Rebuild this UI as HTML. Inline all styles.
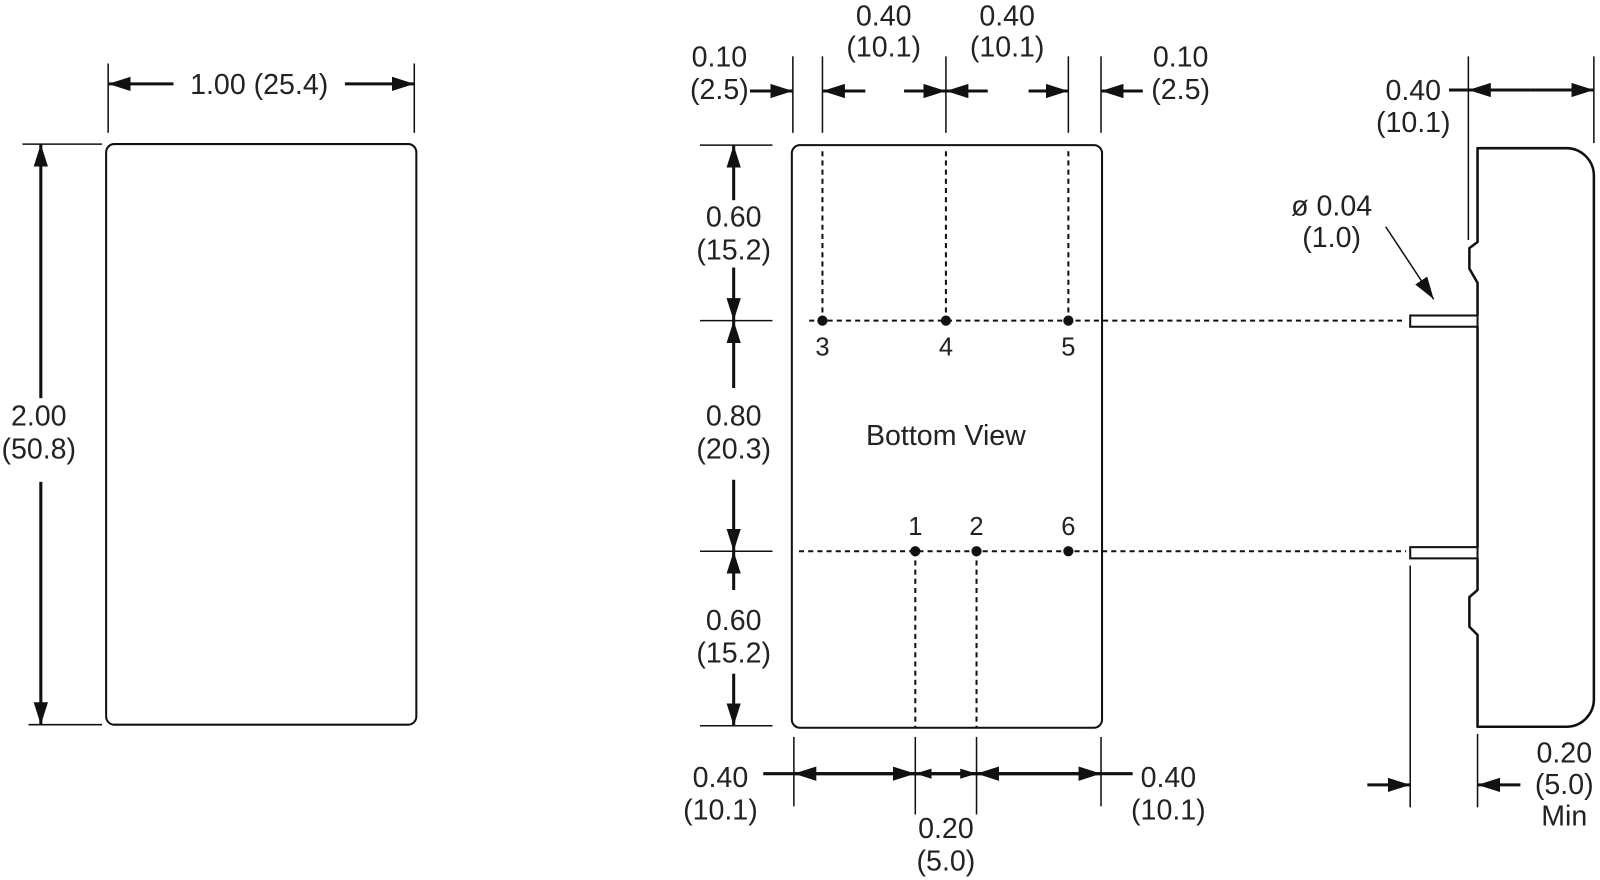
<!DOCTYPE html>
<html><head><meta charset="utf-8"><style>
html,body{margin:0;padding:0;background:#fff;width:1600px;height:880px;overflow:hidden}
svg text{font-family:"Liberation Sans",sans-serif;font-size:28px;fill:#222;text-anchor:middle}
</style></head><body>
<svg width="1600" height="880" viewBox="0 0 1568 862" xmlns="http://www.w3.org/2000/svg">
<defs>
<marker id="a" markerUnits="userSpaceOnUse" markerWidth="24" markerHeight="16" refX="22" refY="7" orient="auto"><path d="M0,0 L22,7 L0,14 z" fill="#111"/></marker>
<marker id="s" markerUnits="userSpaceOnUse" markerWidth="18" markerHeight="12" refX="16" refY="5" orient="auto"><path d="M0,0 L16,5 L0,10 z" fill="#111"/></marker>
</defs>
<g stroke="#111" fill="none">
<rect x="104" y="141" width="304" height="569" rx="8" stroke-width="2"/>
<g stroke-width="1.5">
<line x1="106" y1="62" x2="106" y2="130"/><line x1="406" y1="62" x2="406" y2="130"/>
<line x1="22" y1="141" x2="100" y2="141"/><line x1="28" y1="710" x2="100" y2="710"/>
</g>
<g stroke-width="3">
<line x1="170" y1="82" x2="106" y2="82" marker-end="url(#a)"/>
<line x1="338" y1="82" x2="406" y2="82" marker-end="url(#a)"/>
<line x1="40" y1="390" x2="40" y2="141" marker-end="url(#a)"/>
<line x1="40" y1="472" x2="40" y2="710" marker-end="url(#a)"/>
</g>
<rect x="776" y="142" width="304" height="571" rx="8" stroke-width="2"/>
<g stroke-width="1.5">
<line x1="777" y1="55" x2="777" y2="130"/><line x1="806" y1="55" x2="806" y2="130"/>
<line x1="927" y1="55" x2="927" y2="130"/><line x1="1047" y1="55" x2="1047" y2="130"/>
<line x1="1079" y1="55" x2="1079" y2="130"/>
<line x1="686" y1="142" x2="757" y2="142"/><line x1="686" y1="314" x2="757" y2="314"/>
<line x1="686" y1="540" x2="757" y2="540"/><line x1="686" y1="711" x2="757" y2="711"/>
<line x1="778" y1="722" x2="778" y2="790"/><line x1="897" y1="722" x2="897" y2="798"/>
<line x1="957" y1="722" x2="957" y2="798"/><line x1="1079" y1="722" x2="1079" y2="790"/>
</g>
<g stroke-width="2" stroke-dasharray="5,4">
<line x1="806" y1="148" x2="806" y2="314"/><line x1="927" y1="148" x2="927" y2="314"/><line x1="1047" y1="148" x2="1047" y2="314"/>
<line x1="793" y1="314" x2="1378" y2="314"/><line x1="783" y1="540" x2="1378" y2="540"/>
<line x1="897" y1="540" x2="897" y2="713"/><line x1="957" y1="540" x2="957" y2="713"/>
</g>
<g stroke-width="3">
<line x1="735" y1="89" x2="777" y2="89" marker-end="url(#a)"/>
<line x1="848" y1="89" x2="806" y2="89" marker-end="url(#a)"/>
<line x1="886" y1="89" x2="927" y2="89" marker-end="url(#a)"/>
<line x1="968" y1="89" x2="927" y2="89" marker-end="url(#a)"/>
<line x1="1008" y1="89" x2="1047" y2="89" marker-end="url(#a)"/>
<line x1="1120" y1="89" x2="1079" y2="89" marker-end="url(#a)"/>
<line x1="719" y1="196" x2="719" y2="142" marker-end="url(#a)"/>
<line x1="719" y1="262" x2="719" y2="314" marker-end="url(#a)"/>
<line x1="719" y1="380" x2="719" y2="314" marker-end="url(#a)"/>
<line x1="719" y1="470" x2="719" y2="540" marker-end="url(#a)"/>
<line x1="719" y1="578" x2="719" y2="540" marker-end="url(#a)"/>
<line x1="719" y1="660" x2="719" y2="711" marker-end="url(#a)"/>
<line x1="748" y1="758" x2="1110" y2="758"/>
<line x1="840" y1="758" x2="778" y2="758" marker-end="url(#a)"/>
<line x1="840" y1="758" x2="897" y2="758" marker-end="url(#a)"/>
<line x1="927" y1="758" x2="897" y2="758" marker-end="url(#s)"/>
<line x1="927" y1="758" x2="957" y2="758" marker-end="url(#s)"/>
<line x1="1018" y1="758" x2="957" y2="758" marker-end="url(#a)"/>
<line x1="1018" y1="758" x2="1079" y2="758" marker-end="url(#a)"/>
</g>
<path d="M1448,309 L1448,277 L1440,263 L1440,243 L1448,237 L1448,145 L1535,145 A27,27 0 0 1 1562,172 L1562,685 A27,27 0 0 1 1535,712 L1448,712 L1448,622 L1440,614 L1440,585 L1448,578 L1448,547 M1448,536 L1448,320" stroke-width="2.5" stroke-linejoin="round"/>
<rect x="1382" y="309" width="66" height="11" stroke-width="2"/>
<rect x="1382" y="536" width="66" height="11" stroke-width="2"/>
<g stroke-width="1.5">
<line x1="1439" y1="55" x2="1439" y2="235"/><line x1="1562" y1="55" x2="1562" y2="140"/>
<line x1="1382" y1="554" x2="1382" y2="791"/><line x1="1448" y1="719" x2="1448" y2="791"/>
<line x1="1358" y1="222" x2="1395" y2="278"/>
</g>
<line x1="1395" y1="278" x2="1405" y2="293" stroke-width="1.5" marker-end="url(#a)"/>
<g stroke-width="3">
<line x1="1420" y1="88" x2="1500" y2="88"/>
<line x1="1500" y1="88" x2="1439" y2="88" marker-end="url(#a)"/>
<line x1="1500" y1="88" x2="1562" y2="88" marker-end="url(#a)"/>
<line x1="1340" y1="769" x2="1382" y2="769" marker-end="url(#a)"/>
<line x1="1490" y1="769" x2="1448" y2="769" marker-end="url(#a)"/>
</g>
</g>
<g fill="#111">
<circle cx="806" cy="314" r="5"/><circle cx="927" cy="314" r="5"/><circle cx="1047" cy="314" r="5"/>
<circle cx="897" cy="540" r="5"/><circle cx="957" cy="540" r="5"/><circle cx="1047" cy="540" r="5"/>
</g>
<text x="254" y="92">1.00 (25.4)</text>
<text x="38" y="417">2.00</text><text x="38" y="449">(50.8)</text>
<text x="705" y="65">0.10</text><text x="705" y="97">(2.5)</text>
<text x="866" y="25">0.40</text><text x="866" y="55">(10.1)</text>
<text x="987" y="25">0.40</text><text x="987" y="55">(10.1)</text>
<text x="1157" y="65">0.10</text><text x="1157" y="97">(2.5)</text>
<text x="719" y="222">0.60</text><text x="719" y="254">(15.2)</text>
<text x="719" y="417">0.80</text><text x="719" y="449">(20.3)</text>
<text x="719" y="617">0.60</text><text x="719" y="649">(15.2)</text>
<text x="806" y="348" style="font-size:25px">3</text><text x="927" y="348" style="font-size:25px">4</text><text x="1047" y="348" style="font-size:25px">5</text>
<text x="897" y="524" style="font-size:25px">1</text><text x="957" y="524" style="font-size:25px">2</text><text x="1047" y="524" style="font-size:25px">6</text>
<text x="927" y="436">Bottom View</text>
<text x="706" y="771">0.40</text><text x="706" y="803">(10.1)</text>
<text x="1145" y="771">0.40</text><text x="1145" y="803">(10.1)</text>
<text x="927" y="821">0.20</text><text x="927" y="853">(5.0)</text>
<text x="1385" y="98">0.40</text><text x="1385" y="129">(10.1)</text>
<text x="1305" y="211">ø 0.04</text><text x="1305" y="242">(1.0)</text>
<text x="1533" y="747">0.20</text><text x="1533" y="778">(5.0)</text><text x="1533" y="809">Min</text>
</svg>
</body></html>
